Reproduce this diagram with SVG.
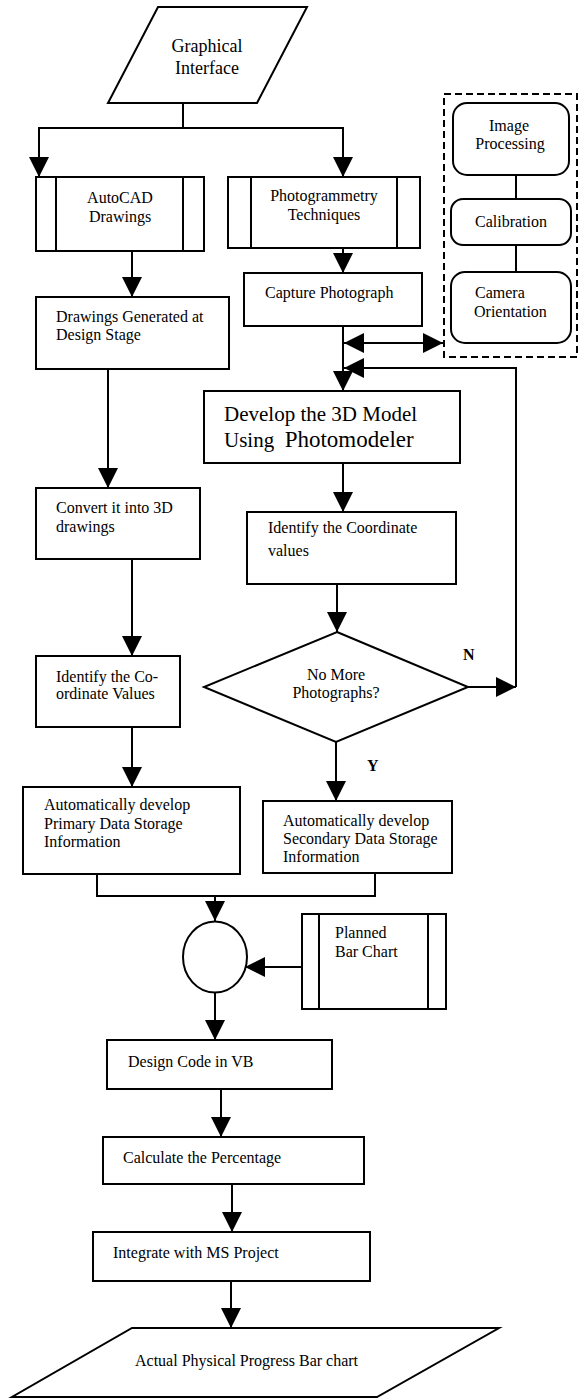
<svg xmlns="http://www.w3.org/2000/svg" width="580" height="1400" viewBox="0 0 580 1400">
<style>
.s{fill:#fff;stroke:#000;stroke-width:2}
.t{font-family:"Liberation Serif","Times New Roman",serif;font-size:16px;fill:#000}
.c{text-anchor:middle}
.b{font-weight:bold}
.ln{fill:none;stroke:#000;stroke-width:2}
.ar{marker-end:url(#ah)}
</style>
<defs>
<marker id="ah" markerUnits="userSpaceOnUse" markerWidth="20" markerHeight="20" viewBox="0 0 20 20" refX="20" refY="10" orient="auto-start-reverse">
<path d="M0,0 L20,10 L0,20 z" fill="#000"/>
</marker>
</defs>
<rect width="580" height="1400" fill="#fff"/>

<g id="connectors">
<polyline class="ln" points="183,103 183,128"/>
<polyline class="ln ar" points="183,128 39,128 39,177"/>
<polyline class="ln ar" points="183,128 343,128 343,177"/>
<line class="ln ar" x1="132" y1="251" x2="132" y2="297"/>
<line class="ln ar" x1="108" y1="369" x2="108" y2="488"/>
<line class="ln ar" x1="132" y1="559" x2="132" y2="656"/>
<line class="ln ar" x1="132" y1="727" x2="132" y2="787"/>
<line class="ln ar" x1="343" y1="248" x2="343" y2="273"/>
<line class="ln ar" x1="343" y1="326" x2="343" y2="391"/>
<line class="ln ar" x1="344" y1="343" x2="443" y2="343" style="marker-start:url(#ah)"/>
<line class="ln ar" x1="468" y1="687" x2="516" y2="687"/>
<polyline class="ln ar" points="516,687 516,368 344,368"/>
<line class="ln ar" x1="343" y1="463" x2="343" y2="512"/>
<line class="ln ar" x1="337" y1="584" x2="337" y2="632"/>
<line class="ln ar" x1="336" y1="742" x2="336" y2="801"/>
<polyline class="ln" points="97,874 97,896 375,896 375,873"/>
<line class="ln ar" x1="215" y1="896" x2="215" y2="921"/>
<line class="ln ar" x1="302" y1="967" x2="245" y2="967"/>
<line class="ln ar" x1="215" y1="993" x2="215" y2="1040"/>
<line class="ln ar" x1="221" y1="1089" x2="221" y2="1137"/>
<line class="ln ar" x1="232" y1="1184" x2="232" y2="1232"/>
<line class="ln ar" x1="231" y1="1281" x2="231" y2="1328"/>
<line class="ln" x1="516" y1="175" x2="516" y2="199"/>
<line class="ln" x1="516" y1="245" x2="516" y2="272"/>
</g>

<g id="graphical-interface">
<polygon class="s" points="158,7 307,7 257,103 108,103"/>
<text class="t c" x="207" y="52" style="font-size:18px">Graphical</text>
<text class="t c" x="207" y="74" style="font-size:18px">Interface</text>
</g>

<g id="autocad">
<rect class="s" x="36" y="177" width="168" height="74"/>
<line class="ln" x1="56" y1="177" x2="56" y2="251"/>
<line class="ln" x1="183" y1="177" x2="183" y2="251"/>
<text class="t c" x="120" y="203">AutoCAD</text>
<text class="t c" x="120" y="222">Drawings</text>
</g>

<g id="drawings-generated">
<rect class="s" x="36" y="297" width="193" height="72"/>
<text class="t" x="56" y="322">Drawings Generated at</text>
<text class="t" x="56" y="340">Design Stage</text>
</g>

<g id="convert-3d">
<rect class="s" x="36" y="488" width="164" height="71"/>
<text class="t" x="56" y="513">Convert it into 3D</text>
<text class="t" x="56" y="532">drawings</text>
</g>

<g id="identify-co">
<rect class="s" x="36" y="656" width="144" height="71"/>
<text class="t" x="56" y="682">Identify the Co-</text>
<text class="t" x="56" y="699">ordinate Values</text>
</g>

<g id="primary-data">
<rect class="s" x="23" y="787" width="217" height="87"/>
<text class="t" x="44" y="810">Automatically develop</text>
<text class="t" x="44" y="829">Primary Data Storage</text>
<text class="t" x="44" y="847">Information</text>
</g>

<g id="photogrammetry">
<rect class="s" x="228" y="177" width="192" height="71"/>
<line class="ln" x1="251" y1="177" x2="251" y2="248"/>
<line class="ln" x1="397" y1="177" x2="397" y2="248"/>
<text class="t c" x="324" y="201">Photogrammetry</text>
<text class="t c" x="324" y="220">Techniques</text>
</g>

<g id="capture-photograph">
<rect class="s" x="244" y="273" width="178" height="53"/>
<text class="t" x="265" y="298">Capture Photograph</text>
</g>

<g id="processing-group">
<rect x="444" y="94" width="133" height="263" fill="none" stroke="#000" stroke-width="2" stroke-dasharray="7,4"/>
</g>

<g id="image-processing">
<rect class="s" x="453" y="103" width="116" height="72" rx="14"/>
<text class="t c" x="509" y="131">Image</text>
<text class="t c" x="510" y="149">Processing</text>
</g>

<g id="calibration">
<rect class="s" x="451" y="199" width="120" height="46" rx="12"/>
<text class="t c" x="511" y="227">Calibration</text>
</g>

<g id="camera-orientation">
<rect class="s" x="451" y="272" width="120" height="71" rx="14"/>
<text class="t" x="475" y="298">Camera</text>
<text class="t" x="474" y="317">Orientation</text>
</g>

<g id="develop-3d">
<rect class="s" x="204" y="391" width="256" height="72"/>
<text class="t" x="224" y="421" style="font-size:21px">Develop the 3D Model</text>
<text class="t" x="224" y="447" style="font-size:21px;white-space:pre">Using  <tspan style="font-size:23px">Photomodeler</tspan></text>
</g>

<g id="identify-coordinate">
<rect class="s" x="247" y="512" width="209" height="72"/>
<text class="t" x="268" y="533">Identify the Coordinate</text>
<text class="t" x="268" y="556">values</text>
</g>

<g id="decision">
<polygon class="s" points="337,632 468,687 336,742 204,687"/>
<text class="t c" x="336" y="680">No More</text>
<text class="t c" x="336" y="698">Photographs?</text>
<text class="t b" x="463" y="660">N</text>
<text class="t b" x="367" y="771">Y</text>
</g>

<g id="secondary-data">
<rect class="s" x="263" y="801" width="189" height="72"/>
<text class="t" x="283" y="826">Automatically develop</text>
<text class="t" x="283" y="844">Secondary Data Storage</text>
<text class="t" x="283" y="862">Information</text>
</g>

<g id="merge">
<ellipse class="s" cx="215" cy="957" rx="32" ry="35.5"/>
</g>

<g id="planned-bar-chart">
<rect class="s" x="302" y="914" width="144" height="95"/>
<line class="ln" x1="319" y1="914" x2="319" y2="1009"/>
<line class="ln" x1="428" y1="914" x2="428" y2="1009"/>
<text class="t" x="335" y="938">Planned</text>
<text class="t" x="335" y="957">Bar Chart</text>
</g>

<g id="design-code">
<rect class="s" x="107" y="1040" width="225" height="49"/>
<text class="t" x="128" y="1067">Design Code in VB</text>
</g>

<g id="calculate">
<rect class="s" x="103" y="1137" width="261" height="47"/>
<text class="t" x="123" y="1163">Calculate the Percentage</text>
</g>

<g id="integrate">
<rect class="s" x="93" y="1232" width="277" height="49"/>
<text class="t" x="113" y="1258">Integrate with MS Project</text>
</g>

<g id="actual-progress">
<polygon class="s" points="132,1328 499,1328 377,1397 12,1397"/>
<text class="t" x="135" y="1366">Actual Physical Progress Bar chart</text>
</g>
</svg>
